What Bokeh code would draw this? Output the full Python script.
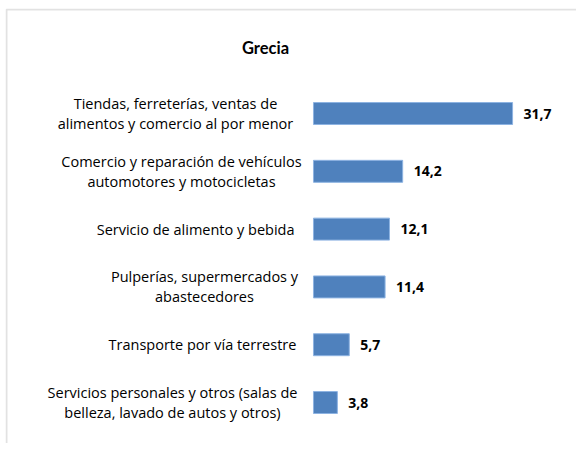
from bokeh.plotting import figure
from bokeh.models import ColumnDataSource, Range1d, Label, BoxAnnotation
from bokeh.core.properties import value
from bokeh.embed import file_html
from bokeh.resources import INLINE

title = "Grecia"
categories = [
    "Tiendas, ferreterías, ventas de\nalimentos y comercio al por menor",
    "Comercio y reparación de vehículos\nautomotores y motocicletas",
    "Servicio de alimento  y bebida",
    "Pulperías, supermercados y\nabastecedores",
    "Transporte por vía terrestre",
    "Servicios personales y otros (salas de\nbelleza, lavado de autos y otros)",
]
values = [31.7, 14.2, 12.1, 11.4, 5.7, 3.8]

# layout / style constants (pixels)
label_center_offsets = [-138, -132, -116, -109, -111, -141]
FONT = "Open Sans"

n = len(categories)
ypos = [n - 1 - i for i in range(n)]
labels = [f"{v:.1f}".replace(".", ",") for v in values]

src = ColumnDataSource(dict(y=ypos, v=values, cat=categories, lab=labels,
                            zero=[0] * n, off=label_center_offsets))

X0, X1, Y0, Y1 = -49.04, 41.88, -0.709, 6.817
W, H = 576, 443
p = figure(width=W, height=H, output_backend="svg", toolbar_location=None,
           x_range=Range1d(X0, X1), y_range=Range1d(Y0, Y1),
           min_border_left=5, min_border_top=8, min_border_right=0,
           min_border_bottom=0)
p.axis.visible = False
p.grid.visible = False
p.outline_line_color = None
p.background_fill_color = "white"
p.border_fill_color = "white"

# chart-area border (continues beyond the visible window on right/bottom)
p.add_layout(BoxAnnotation(left=X0 + 1 / 6.28, top=Y1 - 1 / 57.8,
                           right=X1 + 200, bottom=Y0 - 50,
                           fill_alpha=0, line_color="#a0a0a0", line_width=2))

p.hbar(y="y", left=0, right="v", height=0.38, source=src,
       fill_color="#4F81BD", line_color="#8DB3E2", line_width=1)

p.text(x="v", y="y", text="lab", source=src, x_offset=11,
       text_align="left", text_baseline="middle",
       text_font=value(FONT), text_font_style="bold", text_font_size="14px",
       text_color="#000000")

p.text(x="zero", y="y", text="cat", source=src, x_offset="off",
       text_align="center", text_baseline="middle", text_line_height=1.05,
       text_font=value(FONT), text_font_size="14.5px", text_color="#000000")

p.add_layout(Label(x=-7.64, y=6.142, text=title, text_align="center",
                   text_baseline="middle", text_font="Lato",
                   text_font_style="bold", text_font_size="16.5px",
                   text_color="#000000"))

open("out.html", "w").write(file_html(p, INLINE))
